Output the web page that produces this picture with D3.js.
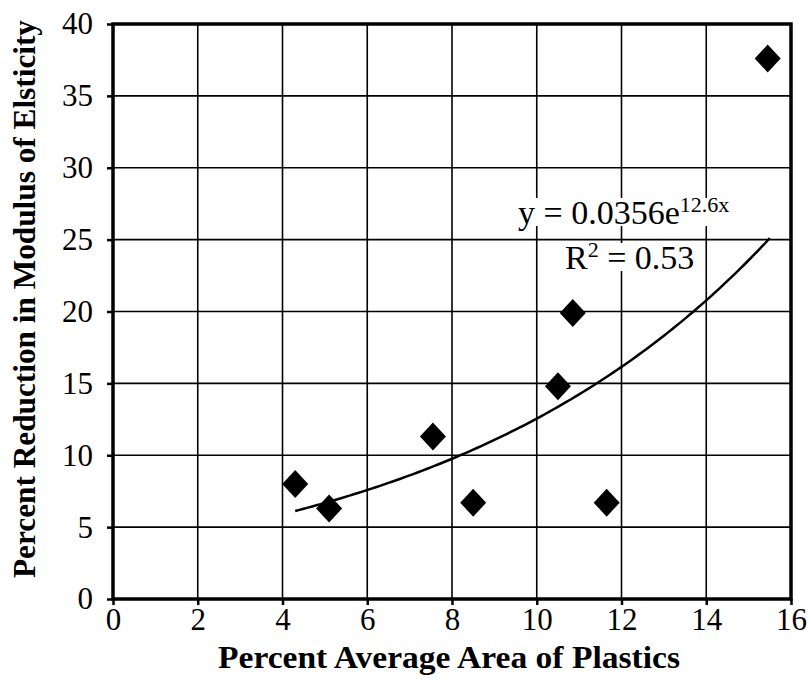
<!DOCTYPE html>
<html>
<head>
<meta charset="utf-8">
<script src="https://cdn.jsdelivr.net/npm/d3@7"></script>
<style>
  body { margin: 0; background: #fff; }
  text { font-family: "Liberation Serif", "Times New Roman", serif; fill: #000; }
</style>
</head>
<body>
<svg id="chart" width="807" height="686"></svg>
<script>
// data
var areaPct = [4.3, 5.1, 7.55, 8.5, 10.5, 10.85, 11.65, 15.45];
var reductionPct = [8.0, 6.3, 11.3, 6.7, 14.8, 19.9, 6.7, 37.6];
var xTicks = [0, 2, 4, 6, 8, 10, 12, 14, 16];
var yTicks = [0, 5, 10, 15, 20, 25, 30, 35, 40];

// trend line as printed on the chart: y = 0.0356 e^(12.6x), fractions
var fitA = 0.0356, fitB = 12.6, fitFrom = 4.3, fitTo = 15.5;

const svg = d3.select('svg#chart');
const plotL = 113, plotR = 791, plotT = 24, plotB = 599;

const x = d3.scaleLinear().domain([0, 16]).range([plotL, plotR]);
const y = d3.scaleLinear().domain([0, 40]).range([plotB, plotT]);

// grid
svg.append('g').selectAll('line.vg').data(xTicks.slice(1, -1)).enter().append('line')
  .attr('x1', d => x(d)).attr('x2', d => x(d))
  .attr('y1', plotT).attr('y2', plotB)
  .attr('stroke', '#000').attr('stroke-width', 1.6);
svg.append('g').selectAll('line.hg').data(yTicks.slice(1, -1)).enter().append('line')
  .attr('x1', plotL).attr('x2', plotR)
  .attr('y1', d => y(d)).attr('y2', d => y(d))
  .attr('stroke', '#000').attr('stroke-width', 1.6);

// equation labels with white backing
const labels = svg.append('g');
const eq = labels.append('text').attr('x', 518).attr('y', 224).style('font-size', '34px');
eq.append('tspan').text('y = 0.0356e');
eq.append('tspan').attr('dy', -12).style('font-size', '22px').text('12.6x');
const r2 = labels.append('text').attr('x', 565).attr('y', 269).style('font-size', '34px');
r2.append('tspan').text('R');
r2.append('tspan').attr('dy', -12).style('font-size', '22px').text('2');
r2.append('tspan').attr('dy', 12).text(' = 0.53');
[eq, r2].forEach(t => {
  const b = t.node().getBBox();
  labels.insert('rect', 'text').attr('x', b.x).attr('y', b.y + 6)
    .attr('width', b.width).attr('height', b.height - 11).attr('fill', '#fff');
});

// axes
const xAxis = svg.append('g').attr('transform', 'translate(0,' + plotB + ')')
  .call(d3.axisBottom(x).tickValues(xTicks).tickSize(6).tickPadding(3));
const yAxis = svg.append('g').attr('transform', 'translate(' + plotL + ',0)')
  .call(d3.axisLeft(y).tickValues(yTicks).tickSize(6).tickPadding(14));
[xAxis, yAxis].forEach(g => {
  g.select('.domain').remove();
  g.selectAll('line').attr('stroke', '#000').attr('stroke-width', 2.5);
  g.selectAll('text').style('font-size', '31px').style('font-family', '"Liberation Serif", serif');
});

// frame
svg.append('rect').attr('x', plotL).attr('y', plotT)
  .attr('width', plotR - plotL).attr('height', plotB - plotT)
  .attr('fill', 'none').attr('stroke', '#000').attr('stroke-width', 3.5);

// trend line
const fitX = d3.range(fitFrom, fitTo + 0.001, 0.1);
svg.append('path')
  .attr('d', d3.line().x(d => x(d)).y(d => y(100 * fitA * Math.exp(fitB * d / 100)))(fitX))
  .attr('fill', 'none').attr('stroke', '#000').attr('stroke-width', 2.5);

// diamonds
const pts = areaPct.map((v, i) => ({ a: v, r: reductionPct[i] }));
svg.append('g').selectAll('path.pt').data(pts).enter().append('path')
  .attr('d', 'M0,-14L13,0L0,14L-13,0Z')
  .attr('transform', d => 'translate(' + x(d.a) + ',' + y(d.r) + ')')
  .attr('fill', '#000');

// axis titles
svg.append('text').attr('x', 449).attr('y', 668)
  .attr('text-anchor', 'middle').style('font-size', '31px').style('font-weight', 'bold')
  .attr('textLength', 462).attr('lengthAdjust', 'spacingAndGlyphs')
  .text('Percent Average Area of Plastics');
svg.append('text').attr('transform', 'translate(35,' + 299 + ') rotate(-90)')
  .attr('text-anchor', 'middle').style('font-size', '31px').style('font-weight', 'bold')
  .attr('textLength', 558).attr('lengthAdjust', 'spacingAndGlyphs')
  .text('Percent Reduction in Modulus of Elsticity');
</script>
</body>
</html>
